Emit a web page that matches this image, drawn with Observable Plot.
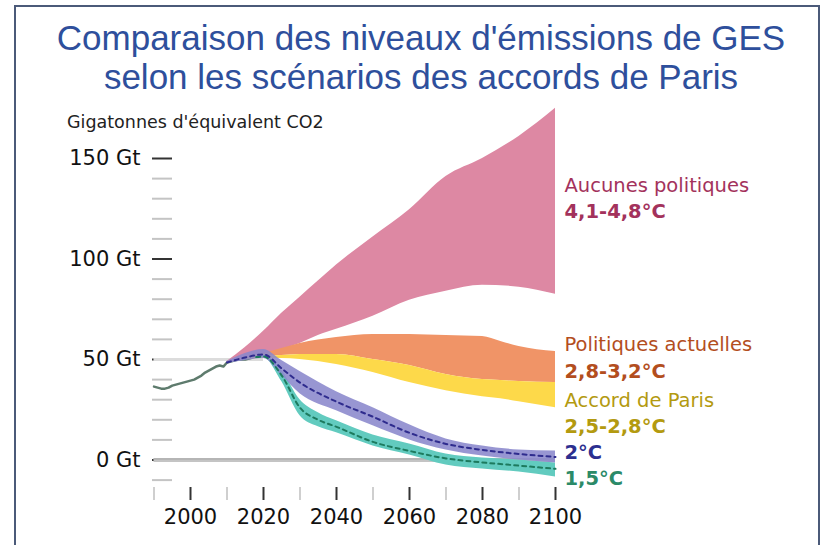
<!DOCTYPE html>
<html>
<head>
<meta charset="utf-8">
<script src="https://cdn.jsdelivr.net/npm/d3@7"></script>
<script src="https://cdn.jsdelivr.net/npm/@observablehq/plot@0.6"></script>
<style>
  body { margin: 0; background: #fff; }
  #wrap { position: relative; width: 831px; height: 545px; overflow: hidden; background: #fff; }
  #frame { position: absolute; left: 14px; top: 5px; width: 806px; height: 600px; border: 2px solid #4b5a79; box-sizing: border-box; }
  #title { position: absolute; left: 0; top: 18px; width: 842px; text-align: center;
           font-family: "Liberation Sans", Arial, sans-serif; font-size: 35px; line-height: 39px; color: #2e4f9c; }
  #ylab { position: absolute; left: 67px; top: 112px; font-family: "DejaVu Sans", sans-serif;
          font-size: 17.5px; line-height: 20px; color: #222; white-space: nowrap; }
  #chart { position: absolute; left: 0; top: 100px; }
</style>
</head>
<body>
<div id="wrap">
  <div id="frame"></div>
  <div id="title">Comparaison des niveaux d'émissions de GES<br>selon les scénarios des accords de Paris</div>
  <div id="ylab">Gigatonnes d'équivalent CO2</div>
  <div id="chart"></div>
</div>
<script>
// ---------- data ----------
const histYears  = [1990,1991,1992,1993,1994,1995,1996,1997,1998,1999,2000,2001,2002,2003,2004,2005,2006,2007,2008,2009,2010,2011,2012,2013,2014,2015,2016,2017];
const histValues = [36.5,36,35.5,35.5,36,37,37.5,38,38.5,39,39.5,40,41,42,43.5,44.5,45.5,46.5,47,46.5,48.5,49,49.5,50,50,50,50.5,51];

const noPolicyYears = [2010,2015,2020,2025,2030,2035,2040,2050,2060,2070,2080,2090,2100];
const noPolicyHigh  = [49,56,64,73,81,89,97,111,124.5,141,150,161,175];
const noPolicyLow   = [48.5,50,52.5,55,58,62,65,71.5,79.5,84,87,86,82.5];

const currentYears = [2015,2020,2025,2030,2040,2050,2060,2070,2080,2085,2090,2100];
const currentHigh  = [51,53,55.5,58,61,62.5,62.5,62,61.5,59,56.5,54];
const currentLow   = [50.5,51.5,52,52.5,52.5,50,47,42.5,40,39.5,39,38.5];

const parisYears = [2015,2020,2025,2030,2040,2050,2060,2070,2080,2085,2090,2100];
const parisHigh  = [50.5,51.5,52,52.5,52.5,50,47,42.5,40,39.5,39,38.5];
const parisLow   = [50,50.5,50.5,50,47.5,43.5,38.5,34.5,31.5,30.5,29,26];

const twoYears  = [2010,2015,2020,2025,2030,2040,2050,2060,2070,2080,2090,2100];
const twoHigh   = [49,53,55,49.5,44,34,26,17.5,10.5,7,5,4.5];
const twoLow    = [48,49.5,50.5,42,33,24.5,17,10,5,2,0,-1.5];
const twoMid    = [48.5,51,52.5,45.5,38.5,29,21.5,13.5,8,5,3,1.5];

const oneFiveYears = [2018,2020,2025,2030,2035,2040,2050,2060,2070,2080,2090,2100];
const oneFiveHigh  = [51.5,52,44.5,30,23.5,19.5,12.5,8,3,1,0,-1.5];
const oneFiveLow   = [51,51,39,22,16.5,13.5,7,2.5,-2.5,-4.5,-6,-8.5];
const oneFiveMid   = [51.2,51.5,42,26,20,16.5,9,4.5,0.8,-1.2,-2.8,-4.4];

const yMajorTicks = [0,50,100,150];
const yMinorTicks = [-10,10,20,30,40,60,70,80,90,110,120,130,140];
const xMajorTicks = [2000,2020,2040,2060,2080,2100];
const xMinorTicks = [1990,2010,2030,2050,2070,2090];

const refValues = [0, 50];
const refFrom   = [1990, 1990];
const refTo     = [2100, 2020];

const labelTexts  = ["Aucunes politiques","4,1-4,8°C","Politiques actuelles","2,8-3,2°C","Accord de Paris","2,5-2,8°C","2°C","1,5°C"];
const labelLevels = [136.6,123.3,57.3,44,29.6,16.3,3.6,-9.4];
const labelColors = ["#a3325c","#a3325c","#b34e1e","#b34e1e","#b39a10","#b39a10","#2c2f8f","#2b8a68"];
const labelBold   = [false,true,false,true,false,true,true,true];

// ---------- build tables ----------
const band = (years, lo, hi, mid) => years.map((yr, i) => ({year: yr, lo: lo[i], hi: hi[i], mid: mid ? mid[i] : null}));
const hist = histYears.map((yr, i) => ({year: yr, value: histValues[i]}));
const noPolicy = band(noPolicyYears, noPolicyLow, noPolicyHigh);
const current = band(currentYears, currentLow, currentHigh);
const paris = band(parisYears, parisLow, parisHigh);
const two = band(twoYears, twoLow, twoHigh, twoMid);
const oneFive = band(oneFiveYears, oneFiveLow, oneFiveHigh, oneFiveMid);
const refs = refValues.map((v, i) => ({value: v, from: refFrom[i], to: refTo[i]}));
const endYear = noPolicyYears[noPolicyYears.length - 1];
const labels = labelTexts.map((t, i) => ({x: endYear, y: labelLevels[i], text: t, color: labelColors[i], bold: labelBold[i]}));

const curve = "monotone-x";

const chart = Plot.plot({
  width: 831,
  height: 445,
  marginLeft: 172,
  marginRight: 0,
  marginTop: 0,
  marginBottom: 58,
  x: {domain: [1990, 2100], range: [153.5, 555]},
  y: {domain: [-10, 175], range: [379.6, 7.75]},
  style: {fontFamily: "DejaVu Sans", background: "transparent", overflow: "visible", color: "#111"},
  marks: [
    Plot.axisY(yMinorTicks, {anchor: "left", tickSize: 20, stroke: "#c4c4c4", strokeWidth: 2, fill: "none", label: null}),
    Plot.axisY(yMajorTicks, {anchor: "left", tickSize: 20, stroke: "#333", strokeWidth: 2, tickPadding: 12, fontSize: 21, fill: "#111", tickFormat: d => d + " Gt", label: null}),
    Plot.axisX(xMinorTicks, {anchor: "bottom", tickSize: 13, stroke: "#cfcfcf", strokeWidth: 2, fill: "none", label: null}),
    Plot.axisX(xMajorTicks, {anchor: "bottom", tickSize: 13, stroke: "#333", strokeWidth: 2, tickPadding: 9, fontSize: 21, fill: "#111", tickFormat: d => String(d), label: null}),
    Plot.ruleY(refs, {y: "value", x1: "from", x2: "to", stroke: d => d.value === 0 ? "#c4c4c4" : "#dcdcdc", strokeWidth: d => d.value === 0 ? 4 : 3}),
    Plot.ruleY(refs.filter(d => d.value === 0), {y: "value", x1: "from", x2: "to", stroke: "#a6a6a6", strokeWidth: 1, dy: -1}),
    Plot.line(hist, {x: "year", y: "value", stroke: "#5e7b6d", strokeWidth: 2.5}),
    Plot.areaY(noPolicy, {x: "year", y1: "lo", y2: "hi", fill: "#dd88a3", curve}),
    Plot.areaY(current, {x: "year", y1: "lo", y2: "hi", fill: "#f09467", curve}),
    Plot.areaY(paris, {x: "year", y1: "lo", y2: "hi", fill: "#fdd94a", curve}),
    Plot.areaY(oneFive, {x: "year", y1: "lo", y2: "hi", fill: "#62cbbf", curve}),
    Plot.areaY(two, {x: "year", y1: "lo", y2: "hi", fill: "#8a87cc", fillOpacity: 0.88, curve}),
    Plot.line(oneFive, {x: "year", y: "mid", stroke: "#1d7a5e", strokeWidth: 2, strokeDasharray: "4,4", curve}),
    Plot.line(two, {x: "year", y: "mid", stroke: "#2f2c8e", strokeWidth: 2, strokeDasharray: "4,4", curve}),
    ...labels.map(l => Plot.text([l], {x: "x", y: "y", text: "text", fill: l.color, fontWeight: l.bold ? "bold" : "normal", fontSize: 19.5, textAnchor: "start", dx: 9}))
  ]
});
document.getElementById("chart").appendChild(chart);
</script>
</body>
</html>
